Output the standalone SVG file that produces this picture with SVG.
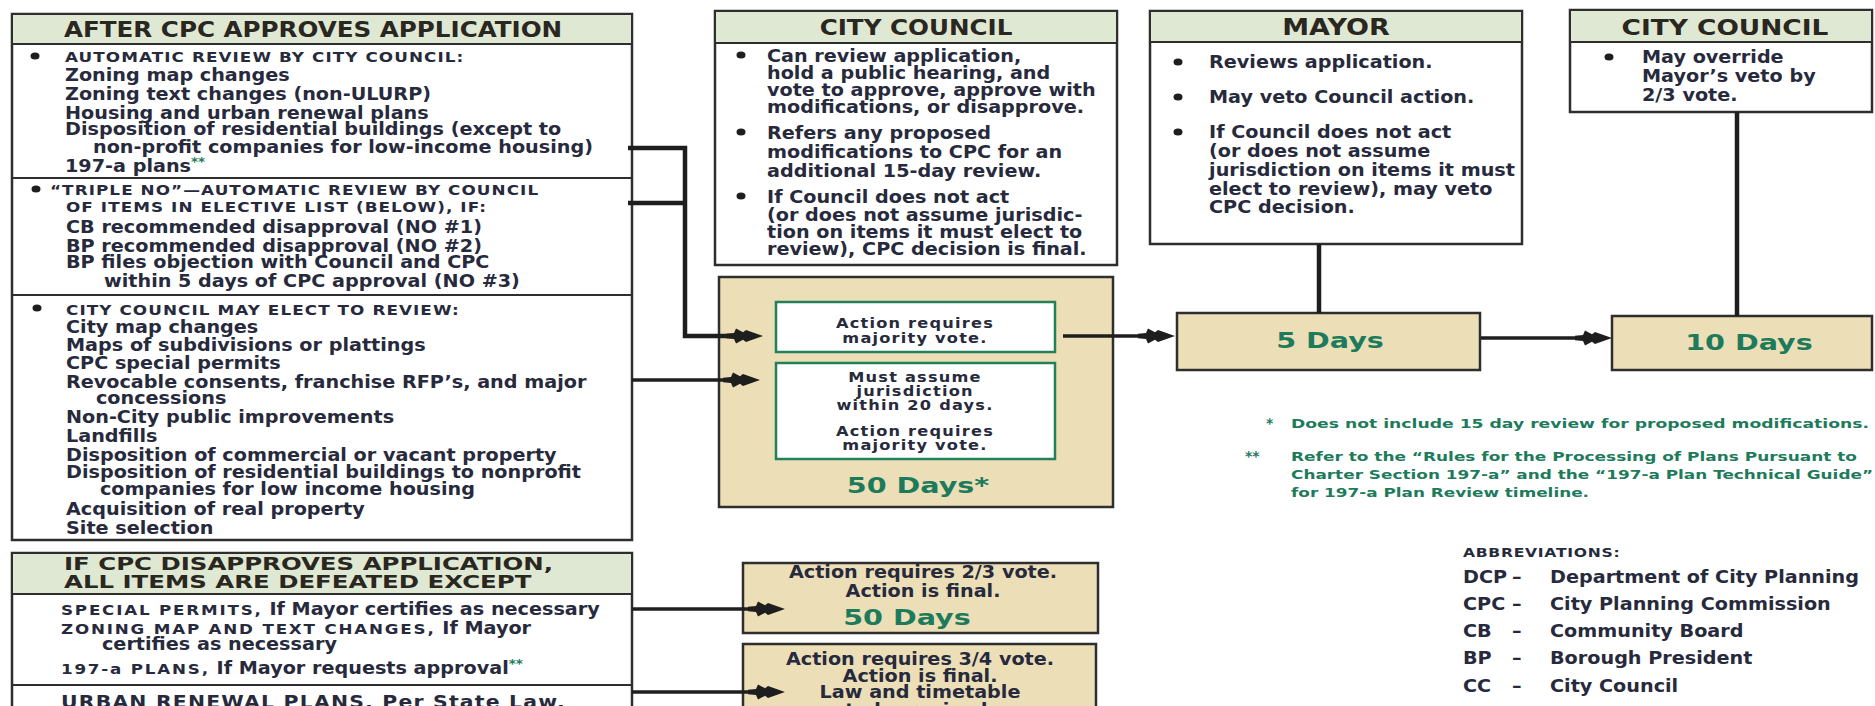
<svg xmlns="http://www.w3.org/2000/svg" width="1875" height="706" viewBox="0 0 1875 706">
<defs>
<style>
text{font-family:"DejaVu Sans","Liberation Sans",sans-serif;font-weight:bold;fill:#272a3c}
.b{font-size:17px}
.sc{font-size:14px;letter-spacing:0.9px}
.sc2{font-size:14.8px;letter-spacing:1.6px}
.h{font-size:20.5px;fill:#2a2620}
.gr{fill:#1d7b5b}
.dy{font-size:22px;fill:#1d7b5b}
.sm{font-size:13.5px;letter-spacing:1px}
.fn{font-size:13px;fill:#1d7b5b}
.L{transform-box:fill-box;transform-origin:0 0;transform:scaleX(1.13)}
.M{transform-box:fill-box;transform-origin:50% 0;transform:scaleX(1.13)}
.L2{transform-box:fill-box;transform-origin:0 0;transform:scaleX(1.2)}
.M2{transform-box:fill-box;transform-origin:50% 0;transform:scaleX(1.2)}
.LH{transform-box:fill-box;transform-origin:0 0;transform:scaleX(1.32)}
.MH{transform-box:fill-box;transform-origin:50% 0;transform:scaleX(1.3)}
.box{fill:#fff;stroke:#2e2e2e;stroke-width:2.5}
.hd{fill:#dfe8d3;stroke:#2e2e2e;stroke-width:2}
.tan{fill:#ecdfb8;stroke:#2e2e2e;stroke-width:2.5}
.inner{fill:#fff;stroke:#22805a;stroke-width:2.5}
.div{stroke:#2e2e2e;stroke-width:2}
.c{fill:none;stroke:#1e1e1e;stroke-width:3.5}
.cv{fill:none;stroke:#1e1e1e;stroke-width:4.5}
.dot{fill:#1e1e1e}
</style>
<marker id="ah" viewBox="-24 -9 40 18" refX="0" refY="0" markerWidth="40" markerHeight="18" markerUnits="userSpaceOnUse" orient="auto">
<path d="M15,0 L-2,-6 L-5,-3.8 L-12,-7.5 L-14,-3 L-22,-2.3 L-22,2.3 L-14,3 L-12,7.5 L-5,3.8 L-2,6 Z" fill="#1e1e1e"/>
</marker>
</defs>
<rect width="1875" height="706" fill="#fff"/>

<g id="after-cpc-approves">
<rect class="box" x="12" y="14" width="620" height="526"/>
<rect class="hd" x="12" y="14" width="620" height="30"/>
<text class="h L2" x="64" y="37">AFTER CPC APPROVES APPLICATION</text>
<line class="div" x1="12" y1="178" x2="632" y2="178"/>
<line class="div" x1="12" y1="295" x2="632" y2="295"/>
<ellipse class="dot" cx="35" cy="56" rx="4.5" ry="3.6"/>
<text class="sc L2" x="65" y="62">AUTOMATIC REVIEW BY CITY COUNCIL:</text>
<text class="b L" x="65" y="81">Zoning map changes</text>
<text class="b L" x="65" y="100">Zoning text changes (non-ULURP)</text>
<text class="b L" x="65" y="119">Housing and urban renewal plans</text>
<text class="b L" x="65" y="135">Disposition of residential buildings (except to</text>
<text class="b L" x="93" y="153">non-profit companies for low-income housing)</text>
<text class="b L" x="65" y="172">197-a plans<tspan class="gr" font-size="12" dy="-6">**</tspan></text>
<ellipse class="dot" cx="36" cy="189" rx="4.5" ry="3.6"/>
<text class="sc L2" x="50" y="195">“TRIPLE NO”—AUTOMATIC REVIEW BY COUNCIL</text>
<text class="sc L2" x="66" y="212">OF ITEMS IN ELECTIVE LIST (BELOW), IF:</text>
<text class="b L" x="66" y="233">CB recommended disapproval (NO #1)</text>
<text class="b L" x="66" y="252">BP recommended disapproval (NO #2)</text>
<text class="b L" x="66" y="268">BP files objection with Council and CPC</text>
<text class="b L" x="104" y="287">within 5 days of CPC approval (NO #3)</text>
<ellipse class="dot" cx="37" cy="308" rx="4.5" ry="3.6"/>
<text class="sc L2" x="66" y="315">CITY COUNCIL MAY ELECT TO REVIEW:</text>
<text class="b L" x="66" y="333">City map changes</text>
<text class="b L" x="66" y="351">Maps of subdivisions or plattings</text>
<text class="b L" x="66" y="369">CPC special permits</text>
<text class="b L" x="66" y="388">Revocable consents, franchise RFP’s, and major</text>
<text class="b L" x="96" y="404">concessions</text>
<text class="b L" x="66" y="423">Non-City public improvements</text>
<text class="b L" x="66" y="442">Landfills</text>
<text class="b L" x="66" y="461">Disposition of commercial or vacant property</text>
<text class="b L" x="66" y="478">Disposition of residential buildings to nonprofit</text>
<text class="b L" x="100" y="495">companies for low income housing</text>
<text class="b L" x="66" y="515">Acquisition of real property</text>
<text class="b L" x="66" y="534">Site selection</text>
</g>

<g id="cpc-disapproves">
<rect class="box" x="12" y="553" width="620" height="170"/>
<rect class="hd" x="12" y="553" width="620" height="41"/>
<text class="h LH" x="64" y="570" style="font-size:18.5px">IF CPC DISAPPROVES APPLICATION,</text>
<text class="h LH" x="64" y="588" style="font-size:18.5px">ALL ITEMS ARE DEFEATED EXCEPT</text>
<text class="b L" x="61" y="615"><tspan class="sc2">SPECIAL PERMITS,</tspan> If Mayor certifies as necessary</text>
<text class="b L" x="61" y="634"><tspan class="sc2">ZONING MAP AND TEXT CHANGES,</tspan> If Mayor</text>
<text class="b L" x="102" y="650">certifies as necessary</text>
<text class="b L" x="61" y="674"><tspan class="sc2">197-a PLANS,</tspan> If Mayor requests approval<tspan class="gr" font-size="12" dy="-6">**</tspan></text>
<line class="div" x1="12" y1="685" x2="632" y2="685"/>
<text class="b L2" x="61" y="708" letter-spacing="1">URBAN RENEWAL PLANS, Per State Law,</text>
</g>

<g id="city-council-review">
<rect class="box" x="715" y="11" width="402" height="254"/>
<rect class="hd" x="715" y="11" width="402" height="32"/>
<text class="h M2" x="916" y="35" text-anchor="middle">CITY COUNCIL</text>
<ellipse class="dot" cx="741" cy="55" rx="4.5" ry="3.6"/>
<text class="b L" x="767" y="62">Can review application,</text>
<text class="b L" x="767" y="79">hold a public hearing, and</text>
<text class="b L" x="767" y="96">vote to approve, approve with</text>
<text class="b L" x="767" y="113">modifications, or disapprove.</text>
<ellipse class="dot" cx="741" cy="132" rx="4.5" ry="3.6"/>
<text class="b L" x="767" y="139">Refers any proposed</text>
<text class="b L" x="767" y="158">modifications to CPC for an</text>
<text class="b L" x="767" y="177">additional 15-day review.</text>
<ellipse class="dot" cx="741" cy="196" rx="4.5" ry="3.6"/>
<text class="b L" x="767" y="203">If Council does not act</text>
<text class="b L" x="767" y="221">(or does not assume jurisdic-</text>
<text class="b L" x="767" y="238">tion on items it must elect to</text>
<text class="b L" x="767" y="255">review), CPC decision is final.</text>
</g>

<g id="mayor">
<rect class="box" x="1150" y="11" width="372" height="233"/>
<rect class="hd" x="1150" y="11" width="372" height="31"/>
<text class="h M2" x="1336" y="35" text-anchor="middle" style="font-size:22.5px">MAYOR</text>
<ellipse class="dot" cx="1178" cy="62" rx="4.5" ry="3.6"/>
<text class="b L" x="1209" y="68">Reviews application.</text>
<ellipse class="dot" cx="1178" cy="97" rx="4.5" ry="3.6"/>
<text class="b L" x="1209" y="103">May veto Council action.</text>
<ellipse class="dot" cx="1178" cy="132" rx="4.5" ry="3.6"/>
<text class="b L" x="1209" y="138">If Council does not act</text>
<text class="b L" x="1209" y="157">(or does not assume</text>
<text class="b L" x="1209" y="176">jurisdiction on items it must</text>
<text class="b L" x="1209" y="195">elect to review), may veto</text>
<text class="b L" x="1209" y="213">CPC decision.</text>
</g>

<g id="city-council-override">
<rect class="box" x="1570" y="10" width="302" height="102"/>
<rect class="hd" x="1570" y="10" width="302" height="32"/>
<text class="h M2" x="1725" y="35" text-anchor="middle" style="font-size:22px">CITY COUNCIL</text>
<ellipse class="dot" cx="1609" cy="57" rx="4.5" ry="3.6"/>
<text class="b L" x="1642" y="63">May override</text>
<text class="b L" x="1642" y="82">Mayor’s veto by</text>
<text class="b L" x="1642" y="101">2/3 vote.</text>
</g>

<g id="fifty-days">
<rect class="tan" x="719" y="277" width="394" height="230"/>
<rect class="inner" x="776" y="302" width="279" height="50"/>
<text class="sm M2" x="915" y="328" text-anchor="middle">Action requires</text>
<text class="sm M2" x="915" y="343" text-anchor="middle">majority vote.</text>
<rect class="inner" x="776" y="363" width="279" height="96"/>
<text class="sm M2" x="915" y="382" text-anchor="middle">Must assume</text>
<text class="sm M2" x="915" y="396" text-anchor="middle">jurisdiction</text>
<text class="sm M2" x="915" y="410" text-anchor="middle">within 20 days.</text>
<text class="sm M2" x="915" y="436" text-anchor="middle">Action requires</text>
<text class="sm M2" x="915" y="450" text-anchor="middle">majority vote.</text>
<text class="dy MH" x="918" y="493" text-anchor="middle">50 Days*</text>
</g>

<g id="five-days">
<rect class="tan" x="1177" y="313" width="303" height="57"/>
<text class="dy MH" x="1330" y="348" text-anchor="middle">5 Days</text>
</g>

<g id="ten-days">
<rect class="tan" x="1612" y="316" width="260" height="54"/>
<text class="dy MH" x="1749" y="350" text-anchor="middle">10 Days</text>
</g>

<g id="two-thirds">
<rect class="tan" x="743" y="563" width="355" height="70"/>
<text class="b M" x="923" y="578" text-anchor="middle">Action requires 2/3 vote.</text>
<text class="b M" x="923" y="597" text-anchor="middle">Action is final.</text>
<text class="dy MH" x="907" y="625" text-anchor="middle">50 Days</text>
</g>

<g id="three-quarters">
<rect class="tan" x="743" y="644" width="353" height="80"/>
<text class="b M" x="920" y="665" text-anchor="middle">Action requires 3/4 vote.</text>
<text class="b M" x="920" y="682" text-anchor="middle">Action is final.</text>
<text class="b M" x="920" y="698" text-anchor="middle">Law and timetable</text>
<text class="b M" x="920" y="716" text-anchor="middle">to be revised.</text>
</g>

<g id="connectors">
<path class="cv" d="M628,148 H685 V336 H748" marker-end="url(#ah)"/>
<path class="cv" d="M628,203 H685"/>
<path class="c" d="M632,380 H745" marker-end="url(#ah)"/>
<path class="c" d="M1063,336 H1160" marker-end="url(#ah)"/>
<path class="cv" d="M1319,244 V313"/>
<path class="c" d="M1481,338 H1597" marker-end="url(#ah)"/>
<path class="cv" d="M1737,112 V316"/>
<path class="c" d="M632,609 H770" marker-end="url(#ah)"/>
<path class="c" d="M632,692 H770" marker-end="url(#ah)"/>
</g>

<g id="notes">
<text class="fn" x="1266" y="428" style="font-size:14px">*</text>
<text class="fn" x="1291" y="428" textLength="578" lengthAdjust="spacingAndGlyphs">Does not include 15 day review for proposed modifications.</text>
<text class="fn" x="1245" y="461" style="font-size:14px">**</text>
<text class="fn" x="1291" y="461" textLength="566" lengthAdjust="spacingAndGlyphs">Refer to the “Rules for the Processing of Plans Pursuant to</text>
<text class="fn" x="1291" y="479" textLength="582" lengthAdjust="spacingAndGlyphs">Charter Section 197-a” and the “197-a Plan Technical Guide”</text>
<text class="fn" x="1291" y="497" textLength="298" lengthAdjust="spacingAndGlyphs">for 197-a Plan Review timeline.</text>
</g>

<g id="abbreviations">
<text class="sc L2" x="1463" y="557" style="font-size:13px;letter-spacing:0.6px">ABBREVIATIONS:</text>
<text class="b L" x="1463" y="583">DCP</text><text class="b L" x="1512" y="583">–</text><text class="b L" x="1550" y="583">Department of City Planning</text>
<text class="b L" x="1463" y="610">CPC</text><text class="b L" x="1512" y="610">–</text><text class="b L" x="1550" y="610">City Planning Commission</text>
<text class="b L" x="1463" y="637">CB</text><text class="b L" x="1512" y="637">–</text><text class="b L" x="1550" y="637">Community Board</text>
<text class="b L" x="1463" y="664">BP</text><text class="b L" x="1512" y="664">–</text><text class="b L" x="1550" y="664">Borough President</text>
<text class="b L" x="1463" y="692">CC</text><text class="b L" x="1512" y="692">–</text><text class="b L" x="1550" y="692">City Council</text>
</g>
</svg>
